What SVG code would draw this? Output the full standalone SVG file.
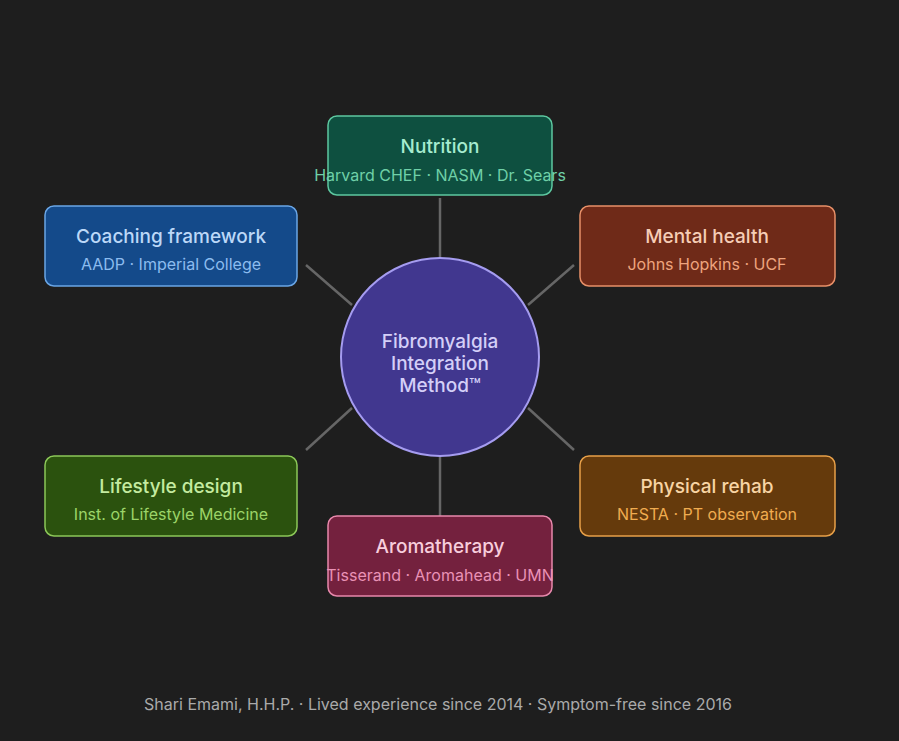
<svg xmlns="http://www.w3.org/2000/svg" width="899" height="741" viewBox="0 0 899 741">
<style>
text{font-family:Inter,"Noto Sans",sans-serif;text-anchor:middle}
.t{font-size:19px;font-weight:500}
.s{font-size:16px}
.box{stroke-width:1.5}
.c line{stroke:#666;stroke-width:2.5}
</style>
<rect width="899" height="741" fill="#1e1e1e"/>
<g class="c" id="connectors">
<line x1="440" y1="198" x2="440" y2="258"/>
<line x1="440" y1="456" x2="440" y2="516"/>
<line x1="306" y1="265" x2="352" y2="305"/>
<line x1="574" y1="265" x2="528" y2="305"/>
<line x1="306" y1="450" x2="352" y2="408"/>
<line x1="574" y1="450" x2="528" y2="408"/>
</g>
<g id="center">
<circle cx="440" cy="357" r="99" fill="#41378f" stroke="#a59cf0" stroke-width="2"/>
<text x="440" y="348" class="t" fill="#d4cff8">Fibromyalgia</text>
<text x="440" y="370" class="t" fill="#d4cff8">Integration</text>
<text x="440" y="392" class="t" fill="#d4cff8">Method™</text>
</g>
<g id="nutrition">
<rect class="box" x="328" y="116" width="224" height="79" rx="9" fill="#0e5040" stroke="#5dc8a0"/>
<text x="440" y="153" class="t" fill="#a6ecd0">Nutrition</text>
<text x="440" y="181" class="s" fill="#6fd0a8">Harvard CHEF · NASM · Dr. Sears</text>
</g>
<g id="coaching">
<rect class="box" x="45" y="206" width="252" height="80" rx="9" fill="#144a8a" stroke="#6aa6e6"/>
<text x="171" y="243" class="t" fill="#bcd8f8">Coaching framework</text>
<text x="171" y="270" class="s" fill="#8cbcef">AADP · Imperial College</text>
</g>
<g id="mental">
<rect class="box" x="580" y="206" width="255" height="80" rx="9" fill="#6f2a18" stroke="#e89068"/>
<text x="707" y="243" class="t" fill="#f6cdb6">Mental health</text>
<text x="707" y="270" class="s" fill="#eea47e">Johns Hopkins · UCF</text>
</g>
<g id="lifestyle">
<rect class="box" x="45" y="456" width="252" height="80" rx="9" fill="#2b520e" stroke="#8cc858"/>
<text x="171" y="493" class="t" fill="#c4eba0">Lifestyle design</text>
<text x="171" y="520" class="s" fill="#9cd468">Inst. of Lifestyle Medicine</text>
</g>
<g id="physical">
<rect class="box" x="580" y="456" width="255" height="80" rx="9" fill="#653a0c" stroke="#e8a048"/>
<text x="707" y="493" class="t" fill="#f8d4a4">Physical rehab</text>
<text x="707" y="520" class="s" fill="#f0ac50">NESTA · PT observation</text>
</g>
<g id="aromatherapy">
<rect class="box" x="328" y="516" width="224" height="80" rx="9" fill="#74213e" stroke="#e888ac"/>
<text x="440" y="553" class="t" fill="#f8cedd">Aromatherapy</text>
<text x="440" y="581" class="s" fill="#ea92b6">Tisserand · Aromahead · UMN</text>
</g>
<text x="438" y="710" font-size="16" fill="#aaa">Shari Emami, H.H.P. · Lived experience since 2014 · Symptom-free since 2016</text>
</svg>
